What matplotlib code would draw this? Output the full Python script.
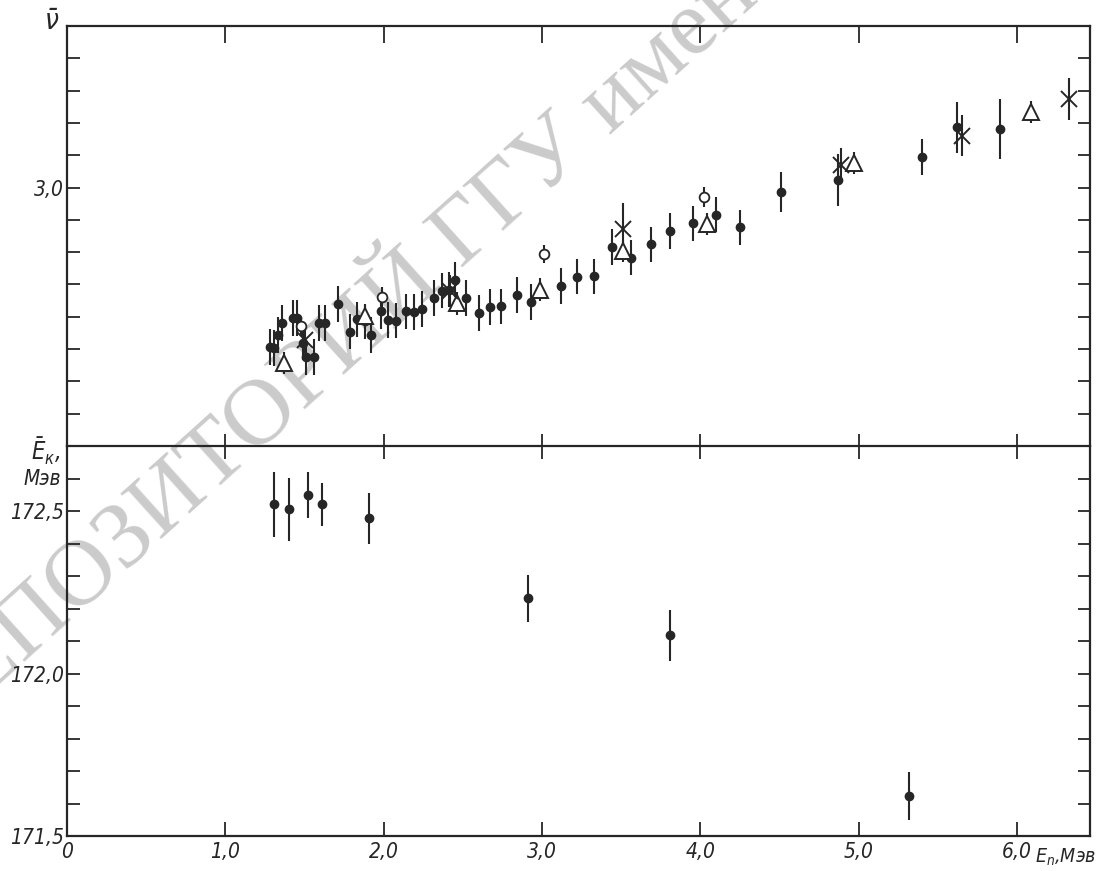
import numpy as np
import matplotlib
matplotlib.use('Agg')
import matplotlib.pyplot as plt

# ---- данные: ν̄ (верхняя панель) ----
# залитые точки
e_dot = [1.28, 1.31, 1.33, 1.36, 1.43, 1.45, 1.49, 1.51, 1.56, 1.59, 1.63, 1.71,
         1.79, 1.83, 1.88, 1.92, 1.98, 2.03, 2.08, 2.14, 2.19, 2.24, 2.32, 2.37,
         2.41, 2.45, 2.52, 2.60, 2.67, 2.74, 2.84, 2.93, 3.12, 3.22, 3.33, 3.44,
         3.56, 3.69, 3.81, 3.95, 4.10, 4.25, 4.51, 4.87, 5.40, 5.62, 5.89]
nu_dot = [2.506, 2.503, 2.544, 2.581, 2.597, 2.597, 2.520, 2.474, 2.475, 2.580,
          2.580, 2.640, 2.554, 2.592, 2.586, 2.543, 2.618, 2.590, 2.588, 2.617,
          2.614, 2.624, 2.658, 2.681, 2.684, 2.715, 2.658, 2.612, 2.631, 2.632,
          2.667, 2.645, 2.695, 2.724, 2.725, 2.816, 2.783, 2.824, 2.866, 2.889,
          2.916, 2.877, 2.985, 3.023, 3.094, 3.186, 3.182]
err_dot = [0.055] * 42 + [0.062, 0.080, 0.056, 0.080, 0.093]

# светлые кружки
e_circ = [1.48, 1.99, 3.01, 4.02]
nu_circ = [2.570, 2.661, 2.794, 2.971]
err_circ = [0.03, 0.03, 0.028, 0.03]

# треугольники
e_tri = [1.37, 1.88, 2.46, 2.99, 3.51, 4.04, 4.97, 6.09]
nu_tri = [2.457, 2.601, 2.642, 2.684, 2.804, 2.887, 3.076, 3.234]
err_tri = [0.035] * 8

# крестики
e_x = [1.50, 2.42, 3.51, 4.89, 5.65, 6.33]
nu_x = [2.529, 2.680, 2.872, 3.070, 3.161, 3.275]
err_x = [0.04, 0.05, 0.08, 0.053, 0.062, 0.065]

# ---- данные: Ē_к (нижняя панель) ----
e_k = [1.31, 1.40, 1.52, 1.61, 1.91, 2.91, 3.81, 5.32]
ek_val = [172.520, 172.506, 172.550, 172.520, 172.477, 172.231, 172.117, 171.623]
ek_err = [0.099, 0.097, 0.071, 0.065, 0.077, 0.071, 0.077, 0.074]

x_ticks = [0, 1, 2, 3, 4, 5, 6]
x_labels = ['0', '1,0', '2,0', '3,0', '4,0', '5,0', '6,0']

INK = '#262626'
plt.rcParams['font.family'] = ['DejaVu Sans']
plt.rcParams['font.style'] = 'italic'
plt.rcParams['font.stretch'] = 'condensed'
plt.rcParams['mathtext.fontset'] = 'dejavusans'

fig = plt.figure(figsize=(11.04, 8.71), dpi=100)
fig.patch.set_facecolor('white')

# водяной знак
fig.text(355 / 1104, 1 - 335 / 871, 'РЕПОЗИТОРИЙ ГГУ имени', rotation=42,
         fontsize=68, color='#cbcbcb', family='Liberation Serif', style='normal',
         ha='center', va='center', rotation_mode='anchor', zorder=-5)

L, W = 67 / 1104, 1023 / 1104
ax1 = fig.add_axes([L, 1 - 446 / 871, W, 420 / 871])
ax2 = fig.add_axes([L, 1 - 836 / 871, W, 390 / 871])

for ax in (ax1, ax2):
    ax.set_facecolor('none')
    ax.set_xlim(0, 6.46)
    for s in ax.spines.values():
        s.set_linewidth(1.6)
        s.set_color(INK)

# верхняя панель
ax1.set_ylim(2.2, 3.5)
eb = dict(fmt='none', ecolor=INK, elinewidth=1.5, capsize=0, zorder=2)
ax1.errorbar(e_dot, nu_dot, yerr=err_dot, **eb)
ax1.plot(e_dot, nu_dot, 'o', color=INK, ms=6, zorder=3)
ax1.errorbar(e_circ, nu_circ, yerr=err_circ, **eb)
ax1.plot(e_circ, nu_circ, 'o', mfc='white', mec=INK, mew=1.3, ms=7, zorder=4)
ax1.errorbar(e_tri, nu_tri, yerr=err_tri, **eb)
ax1.plot(e_tri, nu_tri, '^', mfc='white', mec=INK, mew=1.4, ms=12, zorder=4)
ax1.errorbar(e_x, nu_x, yerr=err_x, **eb)
ax1.plot(e_x, nu_x, 'x', color=INK, mew=1.4, ms=11, zorder=4)

yt1 = np.round(np.arange(2.3, 3.45, 0.1), 2)
ax1.set_yticks(yt1)
ax1.set_yticklabels(['3,0' if abs(v - 3.0) < 1e-6 else '' for v in yt1])
ax1.set_xticks(x_ticks[1:])
ax1.tick_params(axis='y', which='both', direction='in', length=9, width=1.3,
                color=INK, left=True, right=True, labelsize=15, labelcolor=INK, pad=2)
ax1.tick_params(axis='x', direction='inout', length=18, width=1.3, color=INK,
                top=True, bottom=True, labelbottom=False)
# метки на верхней рамке смотрят внутрь
for t in ax1.xaxis.get_major_ticks():
    t.tick2line.set_marker(3)
    t.tick2line.set_markersize(12)
ax1.text(-0.015, 1.01, r'$\bar{\nu}$', transform=ax1.transAxes, fontsize=20,
         color=INK, ha='center', va='center')

# нижняя панель
ax2.set_ylim(171.5, 172.7)
ax2.errorbar(e_k, ek_val, yerr=ek_err, **eb)
ax2.plot(e_k, ek_val, 'o', color=INK, ms=6, zorder=3)

yt2 = np.round(np.arange(171.5, 172.65, 0.1), 2)
ax2.set_yticks(yt2)
lab2 = {171.5: '171,5', 172.0: '172,0', 172.5: '172,5'}
ax2.set_yticklabels([lab2.get(round(v, 1), '') for v in yt2])
ax2.set_xticks(x_ticks)
ax2.set_xticklabels(x_labels)
ax2.tick_params(axis='y', direction='in', length=9, width=1.3, color=INK,
                left=True, right=True, labelsize=15, labelcolor=INK, pad=2)
ax2.tick_params(axis='x', direction='in', length=10, width=1.3, color=INK,
                top=False, labelsize=15, labelcolor=INK, pad=4)
ax2.spines['top'].set_visible(False)
ax2.text(6.11, -0.028, r'$E_n$,Мэв', transform=ax2.get_xaxis_transform(),
         fontsize=14, color=INK, ha='left', va='top')
ax2.text(-0.006, 0.985, r'$\bar{E}_{к}$,', transform=ax2.transAxes, fontsize=17,
         color=INK, ha='right', va='center')
ax2.text(-0.006, 0.915, 'Мэв', transform=ax2.transAxes, fontsize=15,
         color=INK, ha='right', va='center')

fig.savefig('out.png', dpi=100, facecolor='white')
